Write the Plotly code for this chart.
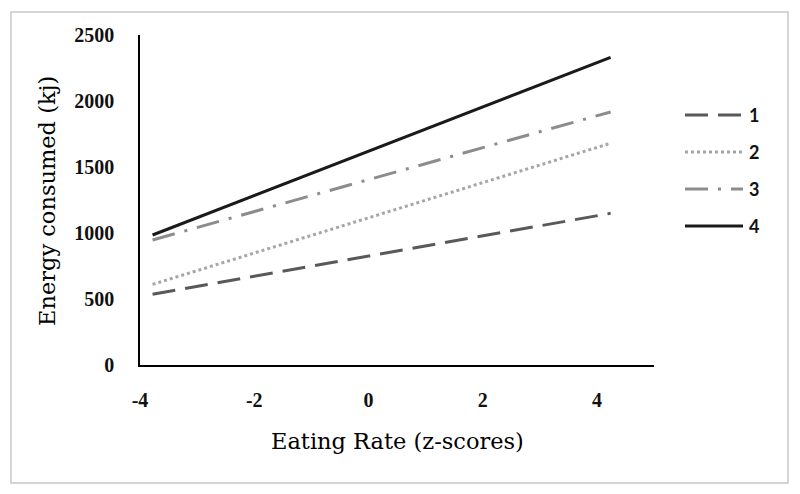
import plotly.graph_objects as go

# Data
series_names = ["1", "2", "3", "4"]
x_ends = [-3.78, 4.24]
y_series1 = [536, 1149]
y_series2 = [611, 1680]
y_series3 = [947, 1917]
y_series4 = [985, 2331]
x_tick_vals = [-4, -2, 0, 2, 4]
y_tick_vals = [0, 500, 1000, 1500, 2000, 2500]

series_values = [y_series1, y_series2, y_series3, y_series4]
colors = ["#595959", "#A6A6A6", "#8C8C8C", "#1A1A1A"]
dashes = ["23px,10px", "3px,3px", "23px,10px,3px,10px", "solid"]

fig = go.Figure()
for name, ys, c, d in zip(series_names, series_values, colors, dashes):
    fig.add_trace(go.Scatter(x=x_ends, y=ys, mode="lines", name=name,
                             line=dict(color=c, width=3, dash=d),
                             showlegend=False))

OFF = 8  # page body margin
W, H = 800 - OFF, 494 - OFF
L, T = 140 - OFF, 35 - OFF
pw, ph = 514, 330
R, B = W - L - pw, H - T - ph

def px_to_paper_x(px):
    return (px - OFF - L) / pw

def px_to_paper_y(py):
    return (T + ph - (py - OFF)) / ph

shapes = []
annotations = []
# outer border
shapes.append(dict(type="rect", xref="paper", yref="paper",
                   x0=px_to_paper_x(11), x1=px_to_paper_x(788),
                   y0=px_to_paper_y(483), y1=px_to_paper_y(12),
                   line=dict(color="#C8C8C8", width=1.5), layer="below"))

# manual legend
legend_rows = [115, 152, 189, 226]
for name, c, d, ry in zip(series_names, colors, dashes, legend_rows):
    yy = px_to_paper_y(ry)
    shapes.append(dict(type="line", xref="paper", yref="paper",
                       x0=px_to_paper_x(685), x1=px_to_paper_x(743),
                       y0=yy, y1=yy, line=dict(color=c, width=3, dash=d)))
    annotations.append(dict(xref="paper", yref="paper", x=px_to_paper_x(747), y=yy,
                            text="<b>" + name + "</b>", showarrow=False,
                            xanchor="left", yanchor="middle",
                            font=dict(family="Lato", size=18, color="#111111")))

# axis titles
annotations.append(dict(xref="paper", yref="paper", x=px_to_paper_x(397), y=px_to_paper_y(441),
                        text="Eating Rate (z-scores)", showarrow=False,
                        xanchor="center", yanchor="middle",
                        font=dict(family="DejaVu Serif", size=22.5, color="#000000")))
annotations.append(dict(xref="paper", yref="paper", x=px_to_paper_x(47), y=px_to_paper_y(201),
                        text="Energy consumed (kj)", showarrow=False, textangle=-90,
                        xanchor="center", yanchor="middle",
                        font=dict(family="DejaVu Serif", size=22.5, color="#000000")))

fig.update_layout(
    width=W, height=H,
    margin=dict(l=L, r=R, t=T, b=B, pad=0),
    plot_bgcolor="white", paper_bgcolor="white",
    shapes=shapes, annotations=annotations,
    showlegend=False,
)
tick_font = dict(family="Liberation Serif", size=20, color="#111111", weight="bold")
fig.update_xaxes(range=[-4, 5], tickvals=x_tick_vals,
                 ticktext=[str(v) for v in x_tick_vals],
                 showgrid=False, zeroline=False, showline=True,
                 linecolor="#000000", linewidth=1.5, ticks="",
                 ticklabelstandoff=16, tickfont=tick_font)
fig.update_yaxes(range=[0, 2500], tickvals=y_tick_vals,
                 showgrid=False, zeroline=False, showline=True,
                 linecolor="#000000", linewidth=1.5, ticks="",
                 ticklabelstandoff=20, tickfont=tick_font)

fig.write_html("out.html")
